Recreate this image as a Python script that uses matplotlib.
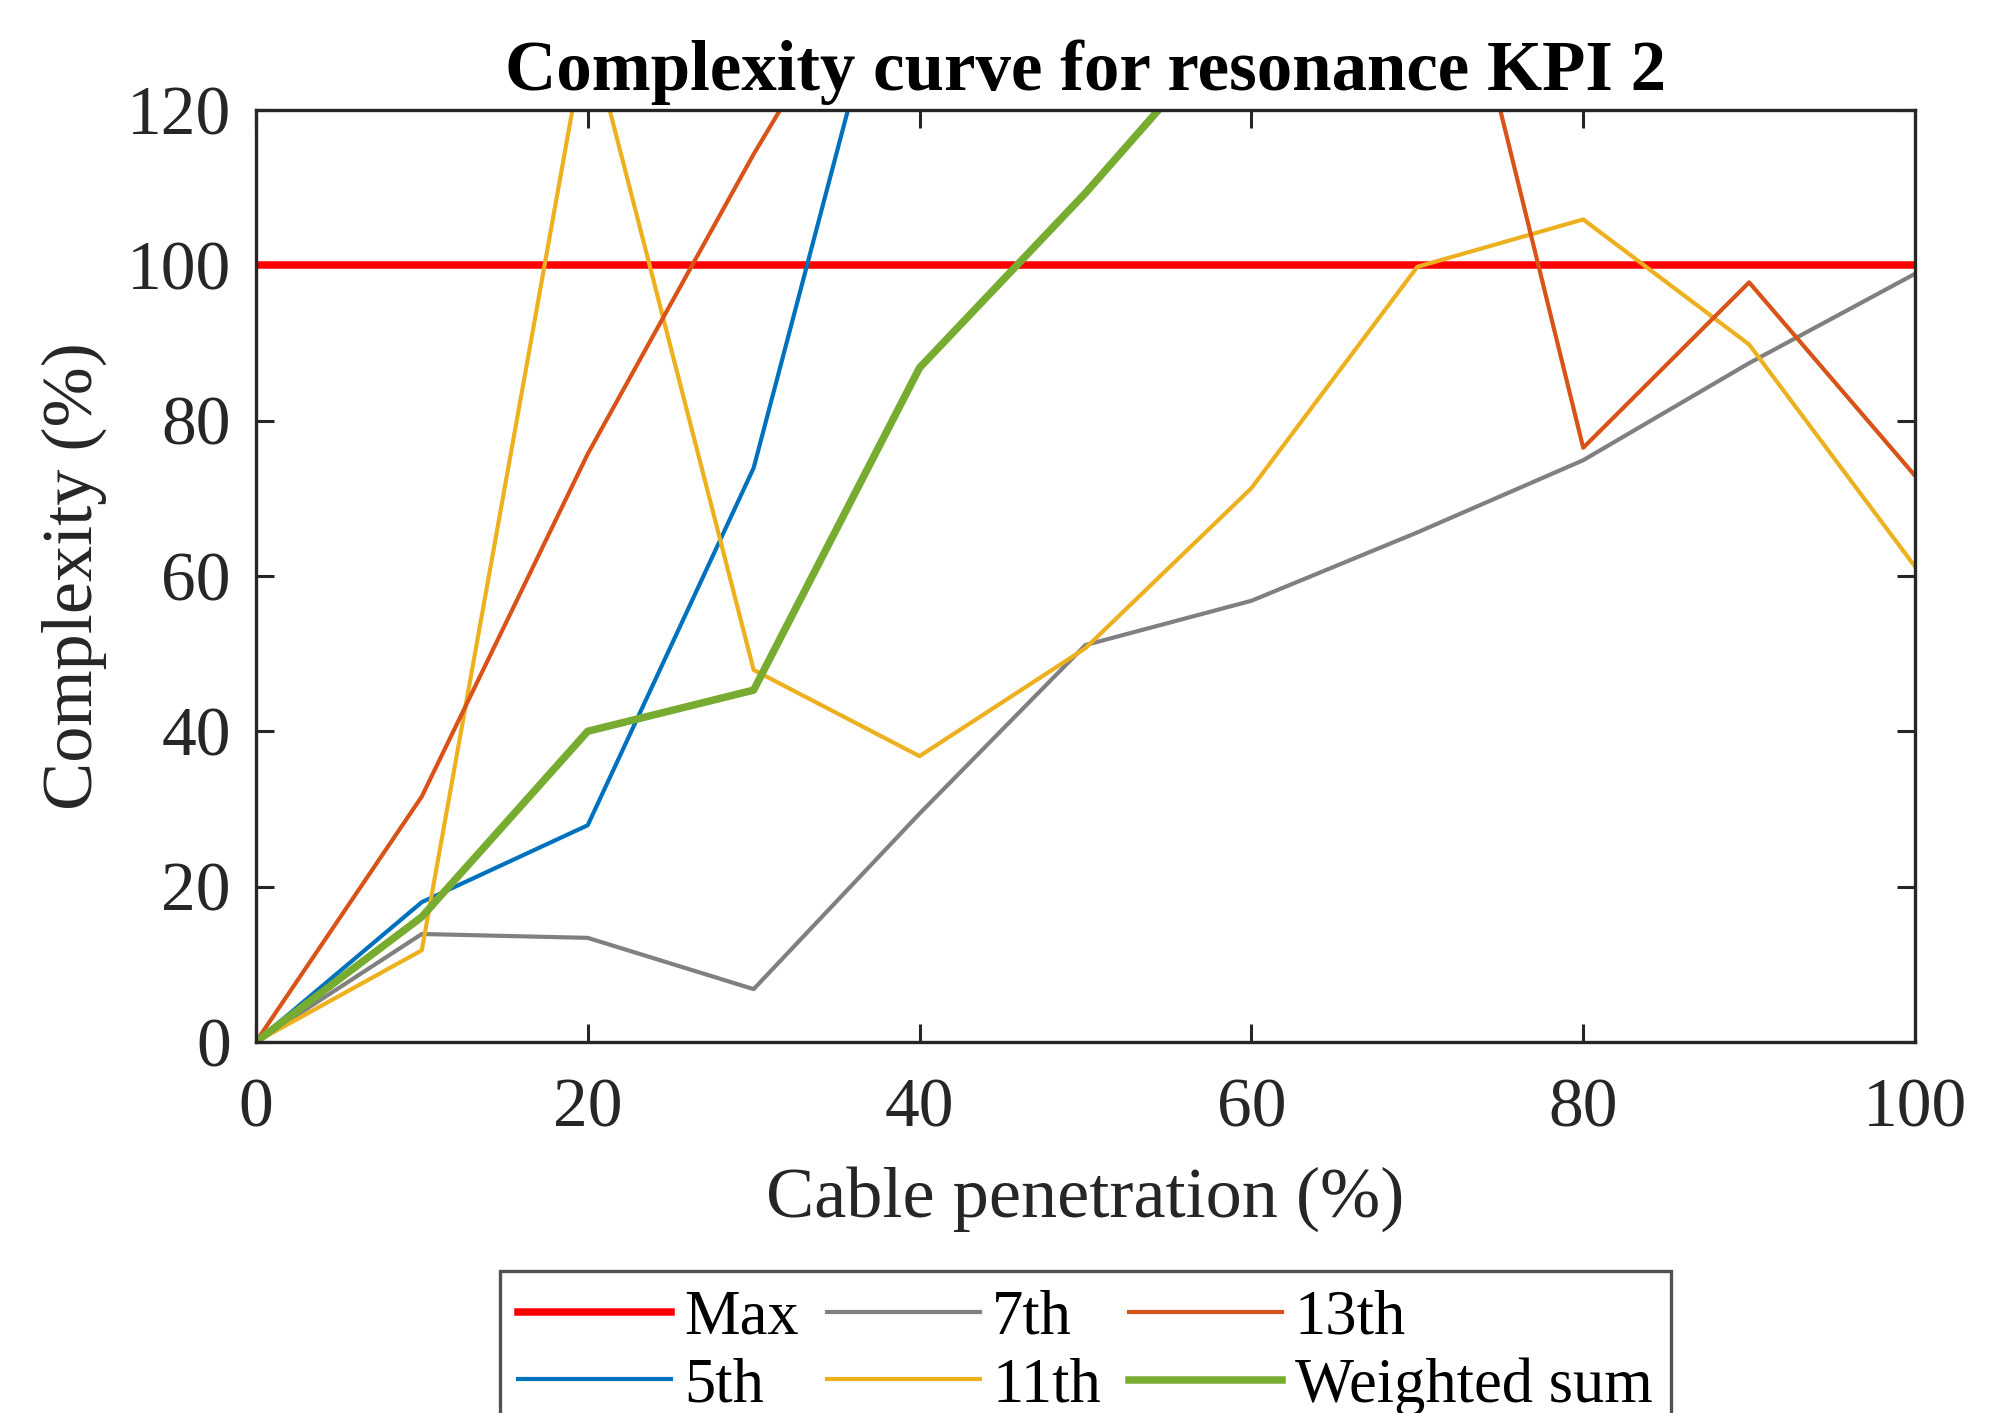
import numpy as np
import matplotlib
matplotlib.use('Agg')
import matplotlib.pyplot as plt

# ── Data ───────────────────────────────────────────────────
penetration = [0, 10, 20, 30, 40, 50, 60, 70, 80, 90, 100]

max_line  = [100] * len(penetration)
h5        = [0, 18.0, 27.9, 73.9, 155, 200, 240, 270, 300, 320, 340]
h7        = [0, 13.9, 13.4, 6.8, 29.4, 51.1, 56.8, 65.6, 74.9, 87.4, 98.9]
h11       = [0, 11.8, 131, 47.9, 36.8, 50.7, 71.3, 99.8, 105.9, 89.8, 61.2]
h13       = [0, 31.6, 75.7, 114.3, 150, 175, 185, 163.5, 76.5, 97.8, 72.9]
weighted  = [0, 16.1, 40.0, 45.3, 86.8, 109.3, 133.6, 150, 160, 165, 170]

labels = ['Max', '5th', '7th', '11th', '13th', 'Weighted sum']

# ── Style ──────────────────────────────────────────────────
plt.rcParams['font.family'] = ['Liberation Serif', 'DejaVu Serif']

dark = '#262626'
fig = plt.figure(figsize=(19.99, 14.13), dpi=100)
ax = fig.add_axes([0.128, 0.2626, 0.830, 0.6596])

ax.plot(penetration, max_line, color='#FF0000', lw=5.4, label=labels[0])
ax.plot(penetration, h5,       color='#0072BD', lw=3.0, label=labels[1])
ax.plot(penetration, h7,       color='#808080', lw=3.0, label=labels[2])
ax.plot(penetration, h11,      color='#EDB120', lw=3.0, label=labels[3])
ax.plot(penetration, h13,      color='#D95319', lw=3.0, label=labels[4])
ax.plot(penetration, weighted, color='#77AC30', lw=5.4, label=labels[5])

ax.set_xlim(0, 100)
ax.set_ylim(0, 120)
ax.set_xticks(np.arange(0, 101, 20))
ax.set_yticks(np.arange(0, 121, 20))

ax.tick_params(direction='in', length=13, width=2.2, colors=dark,
               labelsize=50, top=True, right=True)
ax.tick_params(axis='x', pad=26)
ax.tick_params(axis='y', pad=18)
for sp in ax.spines.values():
    sp.set_linewidth(2.4)
    sp.set_color(dark)

ax.set_xlabel('Cable penetration (%)', fontsize=52, color=dark, labelpad=18)
ax.set_ylabel('Complexity (%)', fontsize=52, color=dark, labelpad=14)
ax.set_title('Complexity curve for resonance KPI 2', fontsize=51,
             fontweight='bold', pad=14)

# legend order: row 1 Max, 7th, 13th ; row 2 5th, 11th, Weighted sum
handles, labs = ax.get_legend_handles_labels()
leg = ax.legend(handles, labs, ncol=3, loc='upper center',
                bbox_to_anchor=(0.5, -0.2457), borderaxespad=0,
                fontsize=45, frameon=True, fancybox=False, edgecolor=dark,
                handlelength=2.45, handletextpad=0.2, columnspacing=0.45,
                labelspacing=0.15, borderpad=0.3)
leg.get_frame().set_linewidth(2.4)

fig.savefig('out.png', dpi=100)
